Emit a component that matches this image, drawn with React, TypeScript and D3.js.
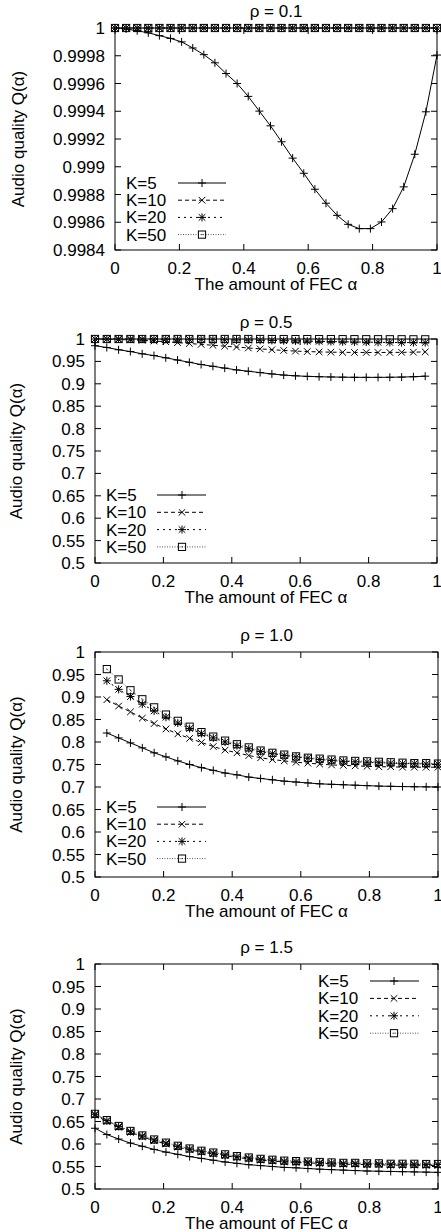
import React from "react";
import * as d3 from "d3";

// x grid: the amount of FEC alpha (30 samples from 0 to 1)
const ALPHA = [0, 0.0345, 0.069, 0.1034, 0.1379, 0.1724, 0.2069, 0.2414, 0.2759, 0.3103, 0.3448, 0.3793, 0.4138, 0.4483, 0.4828, 0.5172, 0.5517, 0.5862, 0.6207, 0.6552, 0.6897, 0.7241, 0.7586, 0.7931, 0.8276, 0.8621, 0.8966, 0.931, 0.9655, 1.0];

const SERIES_NAMES = ["K=5", "K=10", "K=20", "K=50"];
const X_TICKS = [0, 0.2, 0.4, 0.6, 0.8, 1];
const X_TICK_LABELS = ["0", "0.2", "0.4", "0.6", "0.8", "1"];

// rho = 0.1
const R01_TICKS = [0.9984, 0.9986, 0.9988, 0.999, 0.9992, 0.9994, 0.9996, 0.9998, 1];
const R01_TICK_LABELS = ["0.9984", "0.9986", "0.9988", "0.999", "0.9992", "0.9994", "0.9996", "0.9998", "1"];
const R01_K5 = [1.0, 0.999993, 0.99998, 0.999965, 0.999945, 0.999925, 0.9999, 0.999856, 0.999808, 0.999749, 0.999672, 0.9996, 0.999507, 0.999401, 0.999295, 0.99918, 0.999062, 0.998953, 0.998838, 0.998737, 0.99865, 0.998585, 0.998554, 0.998554, 0.998602, 0.998698, 0.998855, 0.99909, 0.999396, 0.999805];
const R01_K10 = [1, 1, 1, 1, 1, 1, 1, 1, 1, 1, 1, 1, 1, 1, 1, 1, 1, 1, 1, 1, 1, 1, 1, 1, 1, 1, 1, 1, 1, 1];
const R01_K20 = [1, 1, 1, 1, 1, 1, 1, 1, 1, 1, 1, 1, 1, 1, 1, 1, 1, 1, 1, 1, 1, 1, 1, 1, 1, 1, 1, 1, 1, 1];
const R01_K50 = [1, 1, 1, 1, 1, 1, 1, 1, 1, 1, 1, 1, 1, 1, 1, 1, 1, 1, 1, 1, 1, 1, 1, 1, 1, 1, 1, 1, 1, 1];

// shared y ticks for rho = 0.5, 1.0, 1.5
const Q_TICKS = [0.5, 0.55, 0.6, 0.65, 0.7, 0.75, 0.8, 0.85, 0.9, 0.95, 1];
const Q_TICK_LABELS = ["0.5", "0.55", "0.6", "0.65", "0.7", "0.75", "0.8", "0.85", "0.9", "0.95", "1"];

// rho = 0.5
const R05_K5 = [0.985, 0.981, 0.976, 0.972, 0.967, 0.963, 0.958, 0.953, 0.948, 0.943, 0.939, 0.935, 0.931, 0.928, 0.925, 0.922, 0.9195, 0.9178, 0.9166, 0.9158, 0.9152, 0.9148, 0.9145, 0.9144, 0.9144, 0.9146, 0.915, 0.9158, 0.917, null];
const R05_K10 = [1.0, 0.9996, 0.999, 0.998, 0.997, 0.9955, 0.994, 0.992, 0.99, 0.988, 0.986, 0.984, 0.982, 0.98, 0.978, 0.976, 0.9745, 0.973, 0.972, 0.9712, 0.9706, 0.9702, 0.97, 0.9699, 0.9699, 0.97, 0.9702, 0.9706, 0.9712, null];
const R05_K20 = [1.0, 1.0, 1.0, 0.9999, 0.9998, 0.9997, 0.9996, 0.9994, 0.9992, 0.999, 0.9987, 0.9984, 0.998, 0.9976, 0.9972, 0.9968, 0.9963, 0.9958, 0.9953, 0.9948, 0.9943, 0.9938, 0.9934, 0.993, 0.9926, 0.9923, 0.9921, 0.992, 0.9919, null];
const R05_K50 = [1, 1, 1, 1, 1, 1, 1, 1, 1, 1, 1, 1, 1, 1, 1, 0.9999, 0.9999, 0.9998, 0.9998, 0.9997, 0.9997, 0.9996, 0.9996, 0.9995, 0.9995, 0.9994, 0.9994, 0.9993, 0.9993, null];

// rho = 1.0
const R10_K5 = [null, 0.82, 0.809, 0.798, 0.787, 0.776, 0.767, 0.758, 0.75, 0.743, 0.737, 0.731, 0.727, 0.722, 0.719, 0.716, 0.713, 0.711, 0.709, 0.707, 0.706, 0.705, 0.704, 0.703, 0.702, 0.7015, 0.701, 0.7005, 0.7003, 0.7];
const R10_K10 = [null, 0.894, 0.88, 0.867, 0.853, 0.841, 0.829, 0.818, 0.808, 0.799, 0.79, 0.782, 0.776, 0.77, 0.765, 0.761, 0.758, 0.755, 0.753, 0.751, 0.749, 0.748, 0.747, 0.746, 0.745, 0.745, 0.744, 0.744, 0.744, 0.744];
const R10_K20 = [null, 0.936, 0.917, 0.901, 0.884, 0.869, 0.855, 0.842, 0.83, 0.819, 0.809, 0.8, 0.792, 0.785, 0.779, 0.774, 0.77, 0.767, 0.764, 0.761, 0.759, 0.757, 0.756, 0.755, 0.754, 0.753, 0.752, 0.752, 0.751, 0.751];
const R10_K50 = [null, 0.962, 0.939, 0.915, 0.895, 0.877, 0.861, 0.847, 0.834, 0.822, 0.812, 0.803, 0.795, 0.788, 0.781, 0.776, 0.772, 0.768, 0.765, 0.763, 0.761, 0.759, 0.758, 0.757, 0.756, 0.755, 0.754, 0.753, 0.753, 0.752];

// rho = 1.5
const R15_K5 = [0.635, 0.621, 0.611, 0.602, 0.595, 0.588, 0.582, 0.577, 0.572, 0.568, 0.564, 0.56, 0.557, 0.554, 0.552, 0.55, 0.548, 0.547, 0.5455, 0.544, 0.543, 0.542, 0.541, 0.54, 0.5395, 0.539, 0.5385, 0.538, 0.5375, 0.537];
const R15_K10 = [0.664, 0.65, 0.637, 0.626, 0.616, 0.607, 0.6, 0.593, 0.587, 0.582, 0.578, 0.574, 0.57, 0.567, 0.564, 0.562, 0.56, 0.559, 0.558, 0.557, 0.556, 0.555, 0.555, 0.554, 0.554, 0.553, 0.553, 0.553, 0.5525, 0.5525];
const R15_K20 = [0.666, 0.652, 0.639, 0.628, 0.618, 0.609, 0.602, 0.595, 0.589, 0.584, 0.58, 0.576, 0.572, 0.569, 0.566, 0.564, 0.562, 0.561, 0.56, 0.559, 0.558, 0.557, 0.557, 0.556, 0.556, 0.555, 0.555, 0.555, 0.5545, 0.5545];
const R15_K50 = [0.667, 0.653, 0.64, 0.629, 0.619, 0.61, 0.603, 0.596, 0.59, 0.585, 0.581, 0.577, 0.573, 0.57, 0.567, 0.565, 0.563, 0.562, 0.561, 0.56, 0.559, 0.558, 0.558, 0.557, 0.557, 0.556, 0.556, 0.556, 0.5555, 0.5555];

const FONT = "'Liberation Sans', Arial, Helvetica, sans-serif";
const FS = 17;

type Panel = {
  title: string;
  yDomain: [number, number];
  yTicks: number[];
  yLabels: string[];
  series: (number | null)[][];
  left: number; right: number; top: number; bottom: number;
  legend: { textX: number; x1: number; x2: number; mx: number; y0: number; dy: number };
};

const PANELS: Panel[] = [
  { title: "ρ = 0.1", yDomain: [0.9984, 1], yTicks: R01_TICKS, yLabels: R01_TICK_LABELS,
    series: [R01_K5, R01_K10, R01_K20, R01_K50],
    left: 115, right: 437, top: 28, bottom: 250,
    legend: { textX: 126, x1: 178, x2: 226, mx: 202, y0: 183, dy: 17.2 } },
  { title: "ρ = 0.5", yDomain: [0.5, 1], yTicks: Q_TICKS, yLabels: Q_TICK_LABELS,
    series: [R05_K5, R05_K10, R05_K20, R05_K50],
    left: 95, right: 437, top: 339, bottom: 563,
    legend: { textX: 106, x1: 157, x2: 206, mx: 182, y0: 495, dy: 17.3 } },
  { title: "ρ = 1.0", yDomain: [0.5, 1], yTicks: Q_TICKS, yLabels: Q_TICK_LABELS,
    series: [R10_K5, R10_K10, R10_K20, R10_K50],
    left: 95, right: 438, top: 652, bottom: 877,
    legend: { textX: 106, x1: 157, x2: 206, mx: 182, y0: 807, dy: 17.2 } },
  { title: "ρ = 1.5", yDomain: [0.5, 1], yTicks: Q_TICKS, yLabels: Q_TICK_LABELS,
    series: [R15_K5, R15_K10, R15_K20, R15_K50],
    left: 95, right: 438, top: 964, bottom: 1189,
    legend: { textX: 318, x1: 370, x2: 419, mx: 394, y0: 981, dy: 17.4 } },
];

const DASHES = ["", "4,3", "2,4", "1,1.5"];
const LINE_COLORS = ["#000", "#000", "#000", "#555"];

function Marker({ kind, x, y }: { kind: number; x: number; y: number }) {
  const s = 4;
  const c = 3.3;
  const st = { stroke: "#000", strokeWidth: 1, fill: "none" } as const;
  if (kind === 0) {
    return <path d={`M${x - s},${y}H${x + s}M${x},${y - s}V${y + s}`} {...st} />;
  }
  if (kind === 1) {
    return <path d={`M${x - c},${y - c}L${x + c},${y + c}M${x - c},${y + c}L${x + c},${y - c}`} {...st} />;
  }
  if (kind === 2) {
    return <path d={`M${x - s},${y}H${x + s}M${x},${y - s}V${y + s}M${x - c},${y - c}L${x + c},${y + c}M${x - c},${y + c}L${x + c},${y - c}`} {...st} />;
  }
  return (
    <g>
      <rect x={x - 3.6} y={y - 3.6} width={7.2} height={7.2} {...st} />
      <rect x={x - 0.5} y={y - 0.5} width={1} height={1} fill="#000" />
    </g>
  );
}

function PanelView({ p }: { p: Panel }) {
  const x = d3.scaleLinear().domain([0, 1]).range([p.left, p.right]);
  const y = d3.scaleLinear().domain(p.yDomain).range([p.bottom, p.top]);
  const line = d3.line<number | null>()
    .defined((d) => d !== null)
    .x((_, i) => x(ALPHA[i]))
    .y((d) => y(d as number));
  const tl = 6;
  const cx = (p.left + p.right) / 2;
  const cy = (p.top + p.bottom) / 2;
  return (
    <g fontFamily={FONT} fontSize={FS} fill="#000">
      {/* ticks */}
      {p.yTicks.map((t, i) => (
        <g key={"y" + i}>
          <line x1={p.left} x2={p.left + tl} y1={y(t)} y2={y(t)} stroke="#000" />
          <line x1={p.right} x2={p.right - tl} y1={y(t)} y2={y(t)} stroke="#000" />
          <text x={p.left - 10} y={y(t) + 6} textAnchor="end">{p.yLabels[i]}</text>
        </g>
      ))}
      {X_TICKS.map((t, i) => (
        <g key={"x" + i}>
          <line x1={x(t)} x2={x(t)} y1={p.bottom} y2={p.bottom - tl} stroke="#000" />
          <line x1={x(t)} x2={x(t)} y1={p.top} y2={p.top + tl} stroke="#000" />
          <text x={x(t)} y={p.bottom + 24} textAnchor="middle">{X_TICK_LABELS[i]}</text>
        </g>
      ))}
      <rect x={p.left} y={p.top} width={p.right - p.left} height={p.bottom - p.top} fill="none" stroke="#000" strokeWidth={1} />
      {/* series */}
      {p.series.map((s, k) => (
        <g key={"s" + k}>
          <path d={line(s) || ""} fill="none" stroke={LINE_COLORS[k]} strokeWidth={1} strokeDasharray={DASHES[k]} />
          {s.map((v, i) => (v === null ? null : <Marker key={i} kind={k} x={x(ALPHA[i])} y={y(v)} />))}
        </g>
      ))}
      {/* legend */}
      {SERIES_NAMES.map((name, k) => {
        const ly = p.legend.y0 + k * p.legend.dy;
        return (
          <g key={"l" + k}>
            <text x={p.legend.textX} y={ly + 6}>{name}</text>
            <line x1={p.legend.x1} x2={p.legend.x2} y1={ly} y2={ly} stroke={LINE_COLORS[k]} strokeDasharray={DASHES[k]} />
            <Marker kind={k} x={p.legend.mx} y={ly} />
          </g>
        );
      })}
      {/* labels */}
      <text x={cx} y={p.top - 11} textAnchor="middle">{p.title}</text>
      <text x={cx} y={p.bottom + 40} textAnchor="middle">The amount of FEC α</text>
      <text transform={`translate(${p.left === 115 ? 24 : 22},${cy}) rotate(-90)`} textAnchor="middle">Audio quality Q(α)</text>
    </g>
  );
}

export default function App() {
  return (
    <svg width={441} height={1232} style={{ position: "absolute", left: 0, top: 0, background: "#fff" }}>
      <rect width={441} height={1232} fill="#fff" />
      {PANELS.map((p, i) => <PanelView key={i} p={p} />)}
    </svg>
  );
}
